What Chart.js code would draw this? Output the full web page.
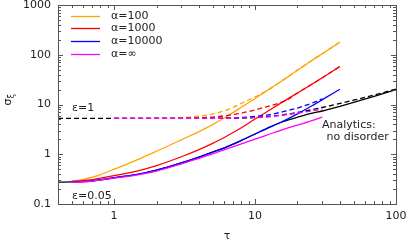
<!DOCTYPE html>
<html>
<head>
<meta charset="utf-8">
<script src="https://cdn.jsdelivr.net/npm/chart.js@4.4.0/dist/chart.umd.min.js"></script>
<style>
  html, body { margin: 0; padding: 0; background: #fff; }
  #wrap { width: 408px; height: 240px; }
</style>
</head>
<body>
<div id="wrap"><canvas id="sigmaChart"></canvas></div>
<script>
// ---- data ----
// simulations, eps = 0.05 (solid)
const tauSim = [0.5, 0.6, 0.7, 0.8, 1, 1.5, 2, 3, 4, 5, 6, 8, 10, 12, 15, 20, 25, 30, 40];
const sigA100 = [0.29, 0.31, 0.345, 0.39, 0.5, 0.8, 1.15, 1.95, 2.85, 3.95, 5.3, 8.8, 13.2, 18.5, 28, 49, 75, 105, 180];
const sigA1000 = [0.285, 0.295, 0.31, 0.33, 0.37, 0.47, 0.59, 0.89, 1.24, 1.66, 2.15, 3.4, 5.1, 7.0, 10.4, 17.0, 25, 34.5, 58];
const sigA10000 = [0.28, 0.285, 0.295, 0.31, 0.34, 0.4, 0.48, 0.67, 0.88, 1.1, 1.33, 1.9, 2.55, 3.25, 4.3, 6.5, 9.2, 12.5, 20.3];
const tauInf = [0.5, 0.6, 0.7, 0.8, 1, 1.5, 2, 3, 4, 5, 6, 8, 10, 12, 15, 20, 25, 30];
const sigAInf = [0.275, 0.28, 0.29, 0.305, 0.33, 0.39, 0.46, 0.64, 0.83, 1.02, 1.22, 1.62, 2.02, 2.4, 3.0, 3.85, 4.7, 5.6];

// simulations, eps = 1 (dashed)
const tauDash = [1, 1.5, 2, 3, 4, 5, 6, 7, 8, 10, 12, 15, 17, 20, 25, 30, 40];
const sigA100e1 = [5.25, 5.25, 5.3, 5.45, 5.8, 6.4, 7.4, 8.8, 10.6, 14.2, 18.8, 28.2, 36, 49, 75, 105, 180];
const sigA1000e1 = [5.25, 5.25, 5.25, 5.3, 5.4, 5.6, 5.9, 6.3, 6.7, 7.8, 9.0, 10.8, 12.5, 17.0, 25, 34.5, 58];
const tauDash30 = [1, 1.5, 2, 3, 4, 5, 6, 7, 8, 10, 12, 15, 17, 20, 25, 30];
const sigA10000e1 = [5.25, 5.25, 5.25, 5.25, 5.27, 5.3, 5.35, 5.4, 5.5, 5.75, 6.1, 6.9, 7.5, 8.5, 10.5, 13.0];
const sigAInfe1 = [5.25, 5.25, 5.25, 5.25, 5.25, 5.25, 5.27, 5.3, 5.33, 5.45, 5.6, 6.0, 6.3, 6.7, 7.4, 8.1];

// analytics, no disorder
const tauAna = [0.4, 0.5, 0.7, 1, 1.5, 2, 3, 4, 5, 6, 8, 10, 12, 15, 17, 20, 25, 30, 40, 50, 70, 100];
const sigAnaSmall = [0.275, 0.278, 0.29, 0.335, 0.4, 0.48, 0.67, 0.88, 1.1, 1.33, 1.9, 2.55, 3.25, 4.3, 4.85, 5.55, 6.6, 7.4, 9.2, 11, 14.6, 20];
const sigAnaOne = [5.25, 5.25, 5.25, 5.25, 5.25, 5.25, 5.25, 5.25, 5.25, 5.25, 5.3, 5.5, 5.7, 6.1, 6.4, 6.9, 7.8, 8.7, 10.5, 12.2, 15.5, 20.4];

// axes
const xLabels = [1, 10, 100];
const yLabels = [0.1, 1, 10, 100, 1000];
const legendLabels = ["α=100", "α=1000", "α=10000", "α=∞"];
const legendColors = ["#ffa500", "#ff0000", "#0000ff", "#ff00ff"];

const FONT = '"DejaVu Sans", sans-serif';

function pts(xs, ys) {
  return xs.map((x, i) => ({ x: x, y: ys[i] }));
}

function logTicks(lo, hi) {
  const out = [];
  for (let e = Math.floor(Math.log10(lo)); e <= Math.ceil(Math.log10(hi)); e++) {
    for (let m = 1; m <= 9; m++) {
      const v = +(m * Math.pow(10, e)).toPrecision(3);
      if (v >= lo - 1e-9 && v <= hi + 1e-9) out.push(v);
    }
  }
  return out;
}

function line(data, color, dashed, order) {
  return {
    data: data,
    borderColor: color,
    borderWidth: 1.3,
    borderDash: dashed ? [5, 3] : [],
    pointRadius: 0,
    cubicInterpolationMode: "monotone",
    fill: false,
    order: order
  };
}

// frame, inward ticks, legend and labels
const decorPlugin = {
  id: "decor",
  afterDraw(chart) {
    const ctx = chart.ctx;
    const a = chart.chartArea;
    const xs = chart.scales.x, ys = chart.scales.y;
    ctx.save();
    ctx.strokeStyle = "#555";
    ctx.lineWidth = 1;
    ctx.strokeRect(Math.round(a.left) + 0.5, Math.round(a.top) + 0.5,
      Math.round(a.right - a.left), Math.round(a.bottom - a.top));

    ctx.beginPath();
    xs.ticks.forEach(t => {
      const px = Math.round(xs.getPixelForValue(t.value)) + 0.5;
      const len = xLabels.includes(t.value) ? 5 : 3;
      ctx.moveTo(px, a.bottom); ctx.lineTo(px, a.bottom - len);
      ctx.moveTo(px, a.top); ctx.lineTo(px, a.top + len);
    });
    ys.ticks.forEach(t => {
      const py = Math.round(ys.getPixelForValue(t.value)) + 0.5;
      const len = yLabels.includes(t.value) ? 5 : 3;
      ctx.moveTo(a.left, py); ctx.lineTo(a.left + len, py);
      ctx.moveTo(a.right, py); ctx.lineTo(a.right - len, py);
    });
    ctx.stroke();

    // legend
    ctx.font = "11px " + FONT;
    ctx.textBaseline = "middle";
    ctx.textAlign = "left";
    legendLabels.forEach((lab, i) => {
      const y = Math.round(a.top + 10.5 + i * 12.8) + 0.5;
      ctx.strokeStyle = legendColors[i];
      ctx.lineWidth = 1.3;
      ctx.beginPath();
      ctx.moveTo(a.left + 13, y); ctx.lineTo(a.left + 42, y);
      ctx.stroke();
      ctx.fillStyle = "#222";
      ctx.fillText(lab, a.left + 53, y);
    });

    // annotations
    ctx.fillStyle = "#222";
    ctx.fillText("ε=1", a.left + 14, 108);
    ctx.fillText("ε=0.05", a.left + 14, 196);
    ctx.fillText("Analytics:", 322, 125);
    ctx.fillText(" no disorder", 323, 137);

    // axis titles
    ctx.textAlign = "center";
    ctx.textBaseline = "alphabetic";
    ctx.fillText("τ", (a.left + a.right) / 2, 239);

    ctx.translate(11, 100);
    ctx.rotate(-Math.PI / 2);
    ctx.textAlign = "left";
    ctx.font = "11px " + FONT;
    const w = ctx.measureText("σ").width;
    ctx.fillText("σ", -w / 2 - 2, 0);
    ctx.font = "8px " + FONT;
    ctx.fillText("ξ", w / 2 - 2, 3);
    ctx.restore();
  }
};

const ctx = document.getElementById("sigmaChart").getContext("2d");
new Chart(ctx, {
  type: "line",
  data: {
    datasets: [
      line(pts(tauAna, sigAnaSmall), "#000000", false, 10),
      line(pts(tauAna, sigAnaOne), "#000000", true, 9),
      line(pts(tauSim, sigA100), legendColors[0], false, 8),
      line(pts(tauDash, sigA100e1), legendColors[0], true, 7),
      line(pts(tauSim, sigA1000), legendColors[1], false, 6),
      line(pts(tauDash, sigA1000e1), legendColors[1], true, 5),
      line(pts(tauSim, sigA10000), legendColors[2], false, 4),
      line(pts(tauDash30, sigA10000e1), legendColors[2], true, 3),
      line(pts(tauInf, sigAInf), legendColors[3], false, 2),
      line(pts(tauDash30, sigAInfe1), legendColors[3], true, 1)
    ]
  },
  options: {
    responsive: true,
    maintainAspectRatio: false,
    animation: false,
    devicePixelRatio: 1,
    layout: { padding: { top: 5, right: 12, left: 0, bottom: 0 } },
    plugins: { legend: { display: false }, tooltip: { enabled: false } },
    scales: {
      x: {
        type: "logarithmic",
        min: 0.4,
        max: 100,
        grid: { display: false, drawTicks: false },
        border: { display: false },
        afterBuildTicks: s => { s.ticks = logTicks(0.4, 100).map(v => ({ value: v })); },
        afterFit: s => { s.height = 36; s.paddingLeft = 0; s.paddingRight = 0; },
        ticks: {
          autoSkip: false,
          maxRotation: 0,
          padding: 6,
          color: "#222",
          font: { family: FONT, size: 11 },
          callback: v => (xLabels.includes(v) ? String(v) : "")
        }
      },
      y: {
        type: "logarithmic",
        min: 0.1,
        max: 1000,
        grid: { display: false, drawTicks: false },
        border: { display: false },
        afterBuildTicks: s => { s.ticks = logTicks(0.1, 1000).map(v => ({ value: v })); },
        afterFit: s => { s.width = 58; s.paddingTop = 0; s.paddingBottom = 0; },
        ticks: {
          autoSkip: false,
          padding: 7,
          color: "#222",
          font: { family: FONT, size: 11 },
          callback: v => (yLabels.includes(v) ? String(v) : "")
        }
      }
    }
  },
  plugins: [decorPlugin]
});
</script>
</body>
</html>
